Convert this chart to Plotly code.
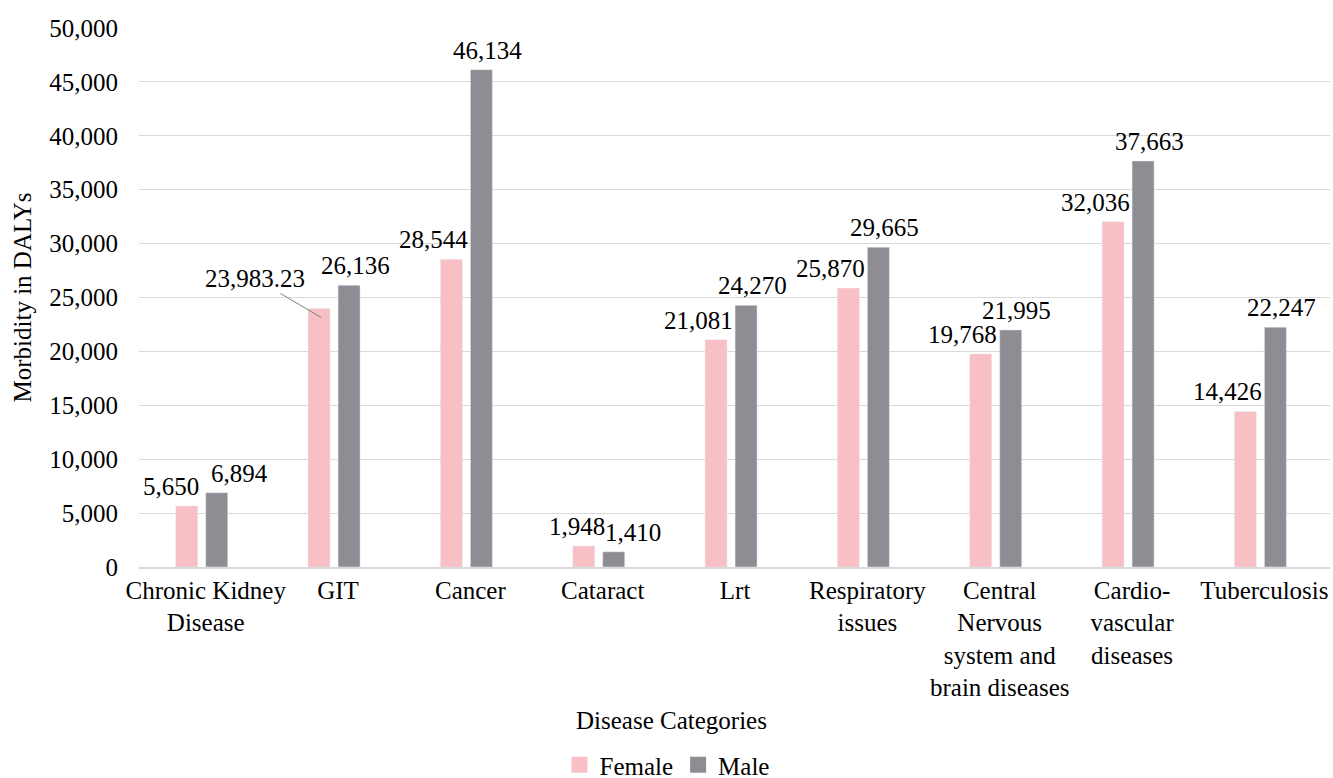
import plotly.graph_objects as go

categories = ["Chronic Kidney<br>Disease", "GIT", "Cancer", "Cataract", "Lrt",
              "Respiratory<br>issues", "Central<br>Nervous<br>system and<br>brain diseases",
              "Cardio-<br>vascular<br>diseases", "Tuberculosis"]
female = [5650, 23983.23, 28544, 1948, 21081, 25870, 19768, 32036, 14426]
male = [6894, 26136, 46134, 1410, 24270, 29665, 21995, 37663, 22247]
y_ticks = [0, 5000, 10000, 15000, 20000, 25000, 30000, 35000, 40000, 45000, 50000]

FONT = "Liberation Serif"
FS = 25
PINK = "#F8BFC5"
GRAY = "#8E8D93"
TXT = "#000000"

W, H = 1333, 778
L, R, T, B = 139, 3, 28, 211
PW, PH = W - L - R, H - T - B

def px_x(p):
    return (p - L) / PW

def px_y(p):
    return (T + PH - p) / PH

def fmt(v):
    return f"{v:,.2f}" if v != int(v) else f"{int(v):,}"

# label placement (pixel nudges relative to category centre)
F_SHIFT, M_SHIFT = -33, 21
nudge = {0: (-31, 38), 3: (-22, 34)}

fig = go.Figure()
fig.add_trace(go.Bar(name="Female", x=categories, y=female, marker_color=PINK,
                     showlegend=False))
fig.add_trace(go.Bar(name="Male", x=categories, y=male, marker_color=GRAY,
                     showlegend=False))
# legend entries with larger square keys
for nm, col in (("Female", PINK), ("Male", GRAY)):
    fig.add_trace(go.Scatter(name=nm, x=[None], y=[None], mode="markers",
                             marker=dict(symbol="square", size=16, color=col),
                             showlegend=True, hoverinfo="skip"))

annotations = []
for i, cat in enumerate(categories):
    fs, ms = nudge.get(i, (F_SHIFT, M_SHIFT))
    if i == 1:
        annotations.append(dict(
            x=cat, y=female[i], xref="x", yref="y", text=fmt(female[i]),
            showarrow=True, arrowhead=0, arrowwidth=1, arrowcolor="#7F7F7F",
            xshift=-13, yshift=-9, ax=-66, ay=-39,
            font=dict(family=FONT, size=FS, color=TXT)))
    else:
        annotations.append(dict(
            x=cat, y=female[i], xref="x", yref="y", text=fmt(female[i]),
            showarrow=False, xanchor="center", yanchor="bottom",
            xshift=fs, yshift=4,
            font=dict(family=FONT, size=FS, color=TXT)))
    annotations.append(dict(
        x=cat, y=male[i], xref="x", yref="y", text=fmt(male[i]),
        showarrow=False, xanchor="center", yanchor="bottom",
        xshift=ms, yshift=4,
        font=dict(family=FONT, size=FS, color=TXT)))

annotations.append(dict(
    x=px_x(22), y=0.5, xref="paper", yref="paper", text="Morbidity in DALYs",
    textangle=-90, showarrow=False, xanchor="center", yanchor="middle",
    font=dict(family=FONT, size=FS, color=TXT)))
annotations.append(dict(
    x=px_x(671), y=px_y(720), xref="paper", yref="paper", text="Disease Categories",
    showarrow=False, xanchor="center", yanchor="middle",
    font=dict(family=FONT, size=FS, color=TXT)))

d = 0.026
fig.update_layout(
    width=W, height=H,
    margin=dict(l=L, r=R, t=T, b=B, autoexpand=False),
    paper_bgcolor="white", plot_bgcolor="white",
    barmode="group", bargap=0.5465, bargroupgap=0.267,
    font=dict(family=FONT, size=FS, color=TXT),
    showlegend=True,
    legend=dict(orientation="h", x=px_x(667), xanchor="center", y=px_y(765),
                yanchor="middle", font=dict(family=FONT, size=FS, color=TXT),
                itemwidth=30, traceorder="normal"),
    annotations=annotations,
    xaxis=dict(type="category", range=[-0.5 + d, 8.5 + d], showgrid=False,
               showline=True, linecolor="#D9D9D9", linewidth=1.5,
               ticks="", ticklabelshift=4,
               tickfont=dict(family=FONT, size=FS, color=TXT),
               fixedrange=True),
    yaxis=dict(range=[0, 50000], tickvals=y_ticks, tickformat=",d",
               showgrid=True, gridcolor="#D9D9D9", gridwidth=1,
               zeroline=False, showline=False, ticks="",
               ticklabelstandoff=20,
               tickfont=dict(family=FONT, size=FS, color=TXT),
               fixedrange=True),
)

fig.write_html(
    "out.html",
    config={"displayModeBar": False},
    post_script="document.body.style.margin='0';document.body.style.overflow='hidden';",
)
